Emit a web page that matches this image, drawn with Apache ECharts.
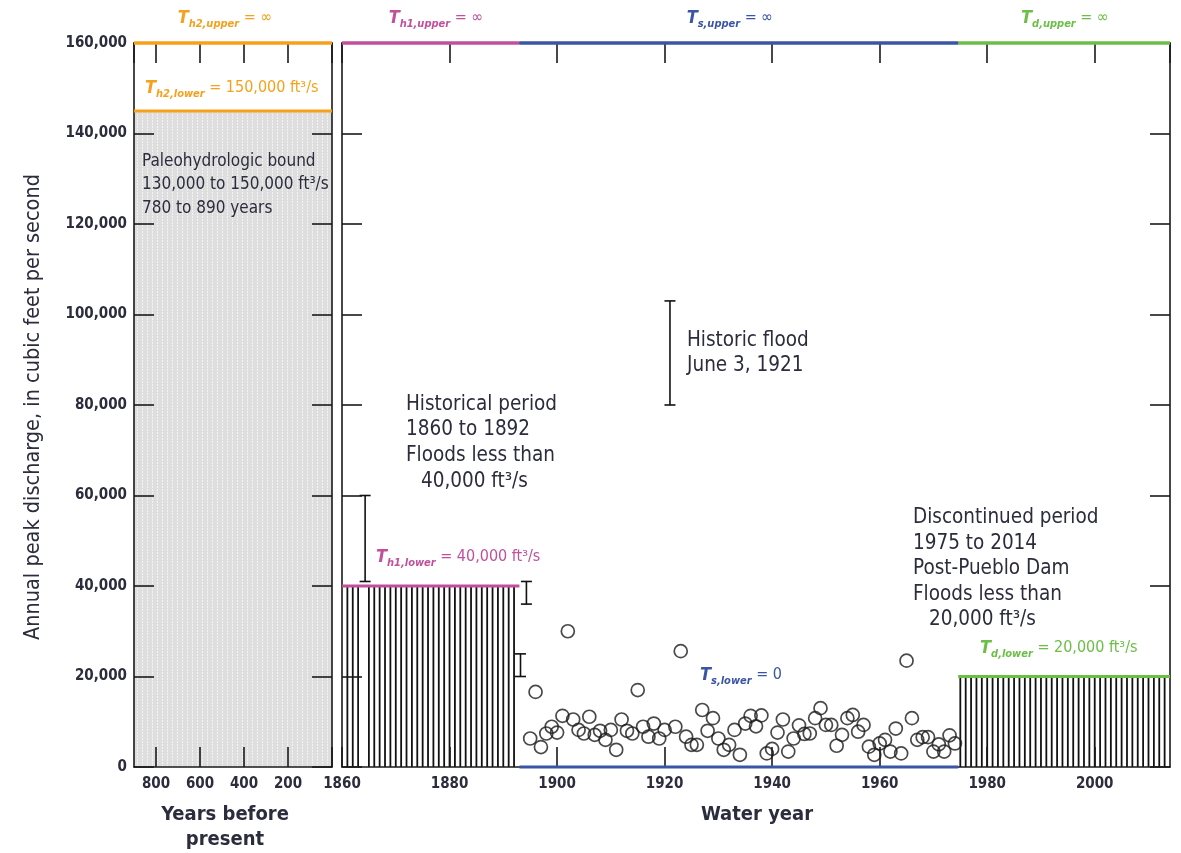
<!DOCTYPE html>
<html>
<head>
<meta charset="utf-8">
<script src="https://cdn.jsdelivr.net/npm/echarts@6/dist/echarts.min.js"></script>
<style>html,body{margin:0;padding:0;background:#fff;}#c{width:1181px;height:853px;}</style>
</head>
<body>
<div id="c"></div>
<script>
// ---------------- DATA ----------------
const yTickLabels = [0, 20000, 40000, 60000, 80000, 100000, 120000, 140000, 160000];
const yearsBeforePresentTicks = [800, 600, 400, 200];
const waterYearTicks = [1860, 1880, 1900, 1920, 1940, 1960, 1980, 2000];

// paleohydrologic bound (years before present range of panel, thresholds)
const paleoRange = [0, 900];
const paleoUpper = 160000;   // drawn at top (infinity)
const paleoLower = 145000;   // as drawn

// historical period
const histYears = [1860, 1893];
const histLower = 40000;
const histHatchYears = [1861,1862,1863,1865,1866,1867,1868,1869,1870,1871,1872,1873,1874,1875,1876,1877,1878,1879,1880,1881,1882,1883,1884,1885,1886,1887,1888,1889,1890,1891,1892];

// systematic period
const sysYears = [1893, 1974.6];
const sysLower = 0;

// discontinued period
const discYears = [1974.6, 2014];
const discLower = 20000;
const discHatchYears = [1975,1976,1977,1978,1979,1980,1981,1982,1983,1984,1985,1986,1987,1988,1989,1990,1991,1992,1993,1994,1995,1996,1997,1998,1999,2000,2001,2002,2003,2004,2005,2006,2007,2008,2009,2010,2011,2012,2013];

const topValue = 160000;

// interval (censored) floods: [year, low, high]
const intervalFloods = [
  [1864.3, 41000, 60000],
  [1893.2, 20000, 25000],
  [1894.3, 36000, 41000],
  [1921, 80000, 103000]
];

// systematic annual peaks
const peakYears = [1895,1896,1897,1898,1899,1900,1901,1902,1903,1904,1905,1906,1907,1908,1909,1910,1911,1912,1913,1914,1915,1916,1917,1918,1919,1920,
  1922,1923,1924,1925,1926,1927,1928,1929,1930,1931,1932,1933,1934,1935,1936,1937,1938,1939,1940,1941,1942,1943,1944,1945,1946,1947,1948,1949,1950,
  1951,1952,1953,1954,1955,1956,1957,1958,1959,1960,1961,1962,1963,1964,1965,1966,1967,1968,1969,1970,1971,1972,1973,1974];
const peakValues = [6300,16600,4400,7400,8900,7600,11300,30000,10500,8200,7400,11100,7100,8000,6000,8200,3800,10500,8000,7400,17000,8900,6700,9600,6300,8200,
  8900,25600,6700,4900,4900,12600,8000,10800,6300,3800,4900,8200,2700,9600,11300,9000,11400,3000,4000,7600,10500,3400,6300,9200,7300,7400,10800,13000,9300,
  9300,4700,7100,10800,11500,7800,9300,4500,2700,5200,6000,3400,8500,3000,23500,10800,6000,6600,6600,3400,5000,3400,7000,5200];

// ---------------- STYLE ----------------
const FONT = "'Liberation Sans Narrow','Arial Narrow','DejaVu Sans Condensed',sans-serif";
const TXT = '#2b2c3c';
const ORANGE = '#F5A11C', MAGENTA = '#C1509C', BLUE = '#3B55A6', GREEN = '#6BBE46';

const patt = document.createElement('canvas');
patt.width = 5; patt.height = 3;
(function(){ const g = patt.getContext('2d'); g.fillStyle = '#dedede'; g.fillRect(0,0,5,3); g.fillStyle = '#f3f3f3'; g.fillRect(2,0,1,2); })();

const chart = echarts.init(document.getElementById('c'), null, {renderer: 'canvas'});

const axisLineStyle = {show: true, onZero: false, lineStyle: {color: '#1a1a1a', width: 1.6}};
const tickStyle = {show: true, inside: true, length: 20, lineStyle: {color: '#1a1a1a', width: 1.6}};
const labelFont = {fontFamily: FONT, fontSize: 15, fontWeight: 'bold', color: TXT};

function segLine(grid, xs, y, color, width) {
  return {type: 'line', xAxisIndex: grid * 2, yAxisIndex: grid * 2, data: [[xs[0], y], [xs[1], y]],
    symbol: 'none', lineStyle: {color: color, width: width || 3}, z: 20, silent: true, clip: false, animation: false};
}
function hatch(years, top) {
  return {type: 'custom', xAxisIndex: 2, yAxisIndex: 2, data: years.map(y => [y, top]), z: 4, animation: false,
    renderItem: function (params, api) {
      const p0 = api.coord([api.value(0), 0]);
      const p1 = api.coord([api.value(0), api.value(1)]);
      return {type: 'line', shape: {x1: p0[0], y1: p0[1], x2: p1[0], y2: p1[1]}, style: {stroke: '#111', lineWidth: 1.8}};
    }};
}

function tText(sub, rest, color) {
  return {
    text: '{T|T}{s|' + sub + '}{e|' + rest + '}',
    rich: {
      T: {fontFamily: FONT, fontStyle: 'italic', fontWeight: 'bold', fontSize: 18, fill: color, lineHeight: 24, verticalAlign: 'middle'},
      s: {fontFamily: FONT, fontStyle: 'italic', fontWeight: 'bold', fontSize: 11, fill: color, lineHeight: 12, verticalAlign: 'bottom'},
      e: {fontFamily: FONT, fontSize: 16, fill: color, lineHeight: 24, verticalAlign: 'middle'}
    }
  };
}
function gLabel(x, y, sub, rest, color, align) {
  const t = tText(sub, rest, color);
  return {type: 'text', x: x, y: y, z: 100, style: Object.assign({align: align || 'left', verticalAlign: 'middle'}, t)};
}
function gText(x, y, text, opts) {
  return {type: 'text', x: x, y: y, z: 100, style: Object.assign({text: text, fontFamily: FONT, fontSize: 20.5, fill: TXT,
    align: 'left', verticalAlign: 'middle', lineHeight: 25.5}, opts || {})};
}

function xAx(grid, min, max, interval, inverse, pos, ticks) {
  return {gridIndex: grid, type: 'value', min: min, max: max, interval: interval, inverse: inverse, position: pos, z: 10,
    axisLine: axisLineStyle, axisTick: tickStyle, splitLine: {show: false},
    axisLabel: ticks ? Object.assign({margin: 10, showMinLabel: true, showMaxLabel: false,
      formatter: v => ticks.indexOf(v) >= 0 ? String(v) : ''}, labelFont) : {show: false}};
}
function yAx(grid, pos, labels) {
  return {gridIndex: grid, type: 'value', min: 0, max: 160000, interval: 20000, position: pos, z: 10,
    axisLine: axisLineStyle, axisTick: tickStyle, splitLine: {show: false},
    axisLabel: labels ? Object.assign({margin: 7, formatter: v => yTickLabels.indexOf(v) >= 0 ? v.toLocaleString('en-US') : ''}, labelFont) : {show: false}};
}

const option = {
  animation: false,
  backgroundColor: '#fff',
  grid: [
    {left: 134, top: 43, width: 198, height: 724},
    {left: 342, top: 43, right: 11, height: 724}
  ],
  xAxis: [
    xAx(0, paleoRange[0], paleoRange[1], 200, true, 'bottom', yearsBeforePresentTicks),
    xAx(0, paleoRange[0], paleoRange[1], 200, true, 'top', null),
    xAx(1, 1860, 2014, 20, false, 'bottom', waterYearTicks),
    xAx(1, 1860, 2014, 20, false, 'top', null)
  ],
  yAxis: [
    yAx(0, 'left', true),
    yAx(0, 'right', false),
    yAx(1, 'left', false),
    yAx(1, 'right', false)
  ],
  series: [
    // paleo shaded area
    {type: 'line', xAxisIndex: 0, yAxisIndex: 0, data: [], z: 1, silent: true,
      markArea: {silent: true, itemStyle: {color: {image: patt, repeat: 'repeat'}},
        data: [[{coord: [paleoRange[0], 0]}, {coord: [paleoRange[1], paleoLower]}]]}},
    segLine(0, paleoRange, paleoUpper, ORANGE, 3.5),
    segLine(0, paleoRange, paleoLower, ORANGE, 3),
    // thresholds right panel
    segLine(1, histYears, topValue, MAGENTA, 3.5),
    segLine(1, sysYears, topValue, BLUE, 3.5),
    segLine(1, discYears, topValue, GREEN, 3.5),
    segLine(1, histYears, histLower, MAGENTA, 3),
    segLine(1, sysYears, sysLower, BLUE, 3),
    segLine(1, discYears, discLower, GREEN, 3),
    hatch(histHatchYears, histLower),
    hatch(discHatchYears, discLower),
    // interval floods (error bars)
    {type: 'custom', xAxisIndex: 2, yAxisIndex: 2, data: intervalFloods, z: 6, animation: false,
      renderItem: function (params, api) {
        const lo = api.coord([api.value(0), api.value(1)]);
        const hi = api.coord([api.value(0), api.value(2)]);
        const w = 5.5;
        const st = {stroke: '#111', lineWidth: 1.6};
        return {type: 'group', children: [
          {type: 'line', shape: {x1: lo[0], y1: lo[1], x2: hi[0], y2: hi[1]}, style: st},
          {type: 'line', shape: {x1: lo[0] - w, y1: lo[1], x2: lo[0] + w, y2: lo[1]}, style: st},
          {type: 'line', shape: {x1: hi[0] - w, y1: hi[1], x2: hi[0] + w, y2: hi[1]}, style: st}
        ]};
      }},
    // systematic peaks
    {type: 'scatter', xAxisIndex: 2, yAxisIndex: 2, data: peakYears.map((y, i) => [y, peakValues[i]]),
      symbol: 'circle', symbolSize: 13, z: 8, silent: true,
      itemStyle: {color: 'rgba(255,255,255,0)', borderColor: '#1c1c1c', borderWidth: 1.7}}
  ],
  graphic: [
    gLabel(225, 18, 'h2,upper', ' = ∞', ORANGE, 'center'),
    gLabel(145, 88, 'h2,lower', ' = 150,000 ft³/s', ORANGE),
    gLabel(436, 18, 'h1,upper', ' = ∞', MAGENTA, 'center'),
    gLabel(730, 18, 's,upper', ' = ∞', BLUE, 'center'),
    gLabel(1065, 18, 'd,upper', ' = ∞', GREEN, 'center'),
    gLabel(376, 557, 'h1,lower', ' = 40,000 ft³/s', MAGENTA),
    gLabel(700, 675, 's,lower', ' = 0', BLUE),
    gLabel(980, 648, 'd,lower', ' = 20,000 ft³/s', GREEN),
    gText(142, 185, 'Paleohydrologic bound\n130,000 to 150,000 ft³/s\n780 to 890 years', {fontSize: 17, lineHeight: 23.5}),
    gText(406, 430, 'Historical period\n1860 to 1892\nFloods less than', {}),
    gText(421, 482, '40,000 ft³/s', {}),
    gText(687, 353, 'Historic flood\nJune 3, 1921', {}),
    gText(913, 556, 'Discontinued period\n1975 to 2014\nPost-Pueblo Dam\nFloods less than', {}),
    gText(929, 620, '20,000 ft³/s', {}),
    gText(225, 827, 'Years before\npresent', {align: 'center', fontSize: 20, lineHeight: 25, fontWeight: 'bold'}),
    gText(757, 815, 'Water year', {align: 'center', fontSize: 20, fontWeight: 'bold'}),
    {type: 'text', x: 33, y: 407, rotation: Math.PI / 2, z: 100,
      style: {text: 'Annual peak discharge, in cubic feet per second', fontFamily: FONT, fontSize: 21.5, fill: TXT,
        align: 'center', verticalAlign: 'middle'}}
  ]
};
chart.setOption(option);
</script>
</body>
</html>
